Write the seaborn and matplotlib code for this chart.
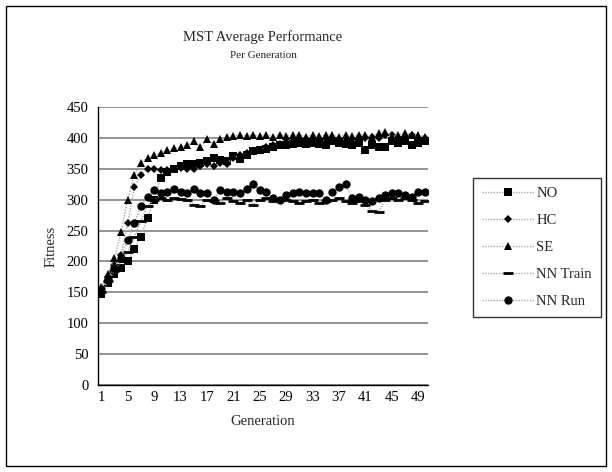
import matplotlib
matplotlib.use("Agg")
import matplotlib.pyplot as plt
import seaborn as sns
import pandas as pd
import numpy as np
from matplotlib.patches import Rectangle

generations = list(range(1, 51))
tick_labels = [str(g) for g in range(1, 50, 4)]

no_vals = [148, 165, 180, 190, 200, 220, 240, 270, 300, 335,
           345, 350, 355, 357, 358, 360, 362, 368, 365, 362,
           370, 366, 372, 378, 380, 382, 385, 388, 388, 390,
           392, 390, 392, 390, 388, 395, 392, 390, 388, 392,
           380, 388, 386, 385, 395, 392, 395, 388, 392, 395]
hc_vals = [155, 175, 195, 210, 262, 320, 340, 350, 350, 348,
           348, 350, 352, 350, 350, 355, 358, 355, 360, 358,
           368, 372, 375, 378, 380, 385, 388, 390, 393, 395,
           396, 398, 398, 398, 398, 400, 398, 400, 398, 400,
           400, 402, 400, 405, 405, 400, 402, 405, 400, 400]
se_vals = [158, 180, 205, 248, 300, 340, 360, 368, 372, 376,
           380, 383, 385, 388, 395, 385, 398, 390, 398, 402,
           403, 405, 403, 405, 403, 405, 402, 405, 403, 405,
           405, 402, 405, 403, 405, 405, 402, 405, 403, 405,
           405, 402, 408, 410, 402, 405, 408, 405, 405, 402]
nn_train_vals = [150, 168, 185, 200, 215, 240, 265, 290, 300, 302,
                 300, 302, 301, 300, 292, 290, 300, 298, 295, 302,
                 298, 295, 300, 292, 300, 302, 298, 300, 300, 298,
                 295, 298, 300, 295, 298, 300, 302, 298, 295, 298,
                 292, 282, 280, 300, 302, 300, 302, 300, 295, 298]
nn_run_vals = [155, 172, 190, 205, 235, 262, 290, 305, 315, 310,
               312, 318, 312, 310, 318, 310, 310, 300, 315, 313,
               312, 310, 318, 325, 315, 312, 302, 300, 308, 310,
               313, 310, 310, 310, 300, 312, 320, 325, 302, 305,
               300, 298, 302, 307, 310, 310, 308, 305, 312, 312]

series_names = ["NO", "HC", "SE", "NN Train", "NN Run"]
series_vals = [no_vals, hc_vals, se_vals, nn_train_vals, nn_run_vals]
markers = ["s", "D", "^", "_", "o"]
msizes = [5.5, 4.5, 6, 7, 6]

plt.rcParams["font.family"] = ["Liberation Serif", "DejaVu Serif"]
sns.set_style("white")
plt.rcParams["font.family"] = ["Liberation Serif", "DejaVu Serif"]

fig = plt.figure(figsize=(6.12, 4.72), dpi=100)
ax = fig.add_axes([98 / 612, 1 - 385 / 472, 330 / 612, 278 / 472])

for name, vals, m, ms in zip(series_names, series_vals, markers, msizes):
    df = pd.DataFrame({"Generation": generations, "Fitness": vals})
    kw = dict(markeredgewidth=2) if m == "_" else dict(markeredgewidth=0)
    sns.lineplot(data=df, x="Generation", y="Fitness", ax=ax, color="#a8a8a8",
                 linestyle=(0, (1, 1)), linewidth=1.0, marker=m, markersize=ms,
                 markerfacecolor="black", markeredgecolor="black", label=name, **kw)

ax.set_xlim(0.5, 50.5)
ax.set_ylim(0, 450)
ax.set_yticks(range(0, 451, 50))
ax.set_xticks(range(1, 50, 4))
ax.set_xticklabels(tick_labels)
ax.set_xticks(np.arange(0.5, 51, 1), minor=True)
ax.tick_params(axis="both", labelsize=10.5, colors="black", length=0)
ax.tick_params(axis="x", which="both", direction="out", length=3, width=0.8, colors="black", pad=4)
ax.tick_params(axis="x", which="major", length=0)
ax.tick_params(axis="y", direction="out", length=4, width=0.8, pad=3)
ax.yaxis.grid(True, color="#808080", linewidth=1.2)
ax.set_axisbelow(True)
for s in ["top", "right"]:
    ax.spines[s].set_visible(False)
ax.spines["left"].set_color("black")
ax.spines["bottom"].set_color("black")
ax.spines["left"].set_linewidth(1)
ax.spines["bottom"].set_linewidth(1)
ax.set_xlabel("Generation", fontsize=10.5, labelpad=8)
ax.set_ylabel("Fitness", fontsize=10.5, labelpad=6)

fig.text(263 / 612, 1 - 37 / 472, "MST Average Performance", ha="center", va="center", fontsize=10.5)
fig.text(263 / 612, 1 - 55 / 472, "Per Generation", ha="center", va="center", fontsize=8)

leg = ax.legend(loc="upper left", bbox_to_anchor=(473 / 612, 1 - 178 / 472),
                bbox_transform=fig.transFigure, frameon=True, fancybox=False,
                fontsize=10.5, handlelength=3.6, labelspacing=0.95, borderpad=0.6,
                handletextpad=0.15, borderaxespad=0)
leg.get_frame().set_edgecolor("black")
leg.get_frame().set_linewidth(1)

fig.patches.append(Rectangle((6 / 612, 6 / 472), 600 / 612, 460 / 472, transform=fig.transFigure,
                             fill=False, edgecolor="black", linewidth=1))

fig.savefig("out.png", dpi=100)
